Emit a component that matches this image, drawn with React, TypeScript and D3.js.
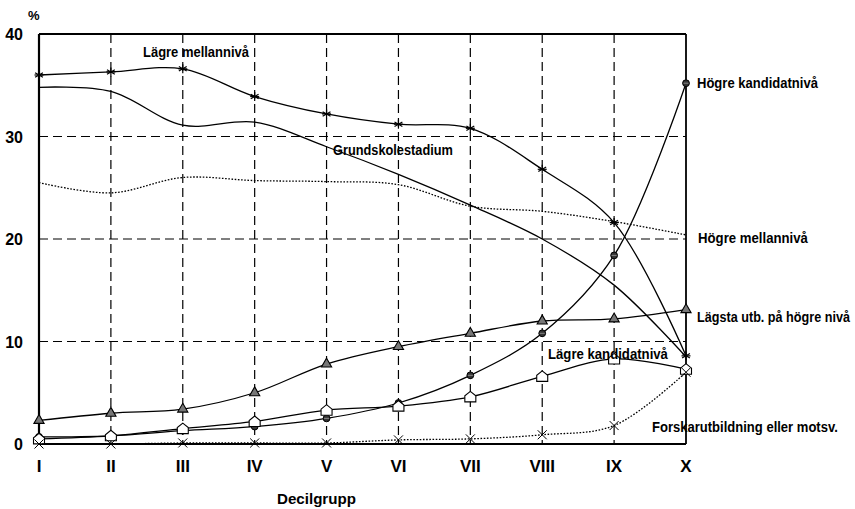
import React, { useLayoutEffect, useRef, useState } from "react";
import * as d3 from "d3";

const categories = ["I", "II", "III", "IV", "V", "VI", "VII", "VIII", "IX", "X"];
const yTicks = [0, 10, 20, 30, 40];

const lagreMellan = [36.0, 36.3, 36.6, 33.9, 32.2, 31.2, 30.8, 26.8, 21.6, 8.6];
const grundskole = [34.8, 34.4, 31.1, 31.4, 29.0, 26.3, 23.3, 20.0, 15.5, 8.5];
const hogreMellan = [25.5, 24.5, 26.0, 25.7, 25.6, 25.3, 23.2, 22.7, 21.7, 20.4];
const lagstaUtb = [2.3, 3.0, 3.4, 5.0, 7.8, 9.5, 10.8, 12.0, 12.2, 13.1];
const hogreKand = [0.7, 0.8, 1.3, 1.7, 2.5, 4.0, 6.7, 10.8, 18.4, 35.2];
const lagreKand = [0.5, 0.8, 1.5, 2.2, 3.3, 3.7, 4.6, 6.6, 8.3, 7.3];
const forskar = [0.0, 0.0, 0.1, 0.1, 0.1, 0.4, 0.5, 0.9, 1.8, 7.0];

type Marker = "none" | "asterisk" | "triangle" | "circle" | "house" | "cross";
const seriesDefs: { name: string; values: number[]; marker: Marker; dotted: boolean }[] = [
  { name: "Lägre mellannivå", values: lagreMellan, marker: "asterisk", dotted: false },
  { name: "Grundskolestadium", values: grundskole, marker: "none", dotted: false },
  { name: "Högre mellannivå", values: hogreMellan, marker: "none", dotted: true },
  { name: "Lägsta utb. på högre nivå", values: lagstaUtb, marker: "triangle", dotted: false },
  { name: "Högre kandidatnivå", values: hogreKand, marker: "circle", dotted: false },
  { name: "Lägre kandidatnivå", values: lagreKand, marker: "house", dotted: false },
  { name: "Forskarutbildning eller motsv.", values: forskar, marker: "cross", dotted: true },
];

const labels: { text: string; x: number; y: number; w: number }[] = [
  { text: "Lägre mellannivå", x: 143, y: 57, w: 106 },
  { text: "Grundskolestadium", x: 333, y: 155, w: 120 },
  { text: "Högre kandidatnivå", x: 697, y: 88, w: 121 },
  { text: "Högre mellannivå", x: 698, y: 243, w: 110 },
  { text: "Lägsta utb. på högre nivå", x: 697, y: 322, w: 153 },
  { text: "Lägre kandidatnivå", x: 548, y: 359, w: 120 },
  { text: "Forskarutbildning eller motsv.", x: 652, y: 432, w: 186 },
];

const W = 855;
const H = 509;
const left = 39;
const right = 686;
const top = 34;
const bottom = 444;
const FONT = "'Liberation Sans Narrow', 'Arial Narrow', 'Liberation Sans', Arial, sans-serif";

function FitText({ text, x, y, w, size }: { text: string; x: number; y: number; w: number; size: number }) {
  const ref = useRef<SVGTextElement>(null);
  const [k, setK] = useState(0.82);
  useLayoutEffect(() => {
    if (ref.current) {
      const n = ref.current.getComputedTextLength();
      if (n > 0) setK(w / n);
    }
  }, [text, w]);
  return (
    <text ref={ref} transform={`translate(${x},${y}) scale(${k},1)`} fontSize={size}>
      {text}
    </text>
  );
}

function MarkerShape({ type, x, y }: { type: Marker; x: number; y: number }) {
  const s = 4.5;
  if (type === "asterisk") {
    return (
      <g stroke="#000" strokeWidth={1.2}>
        <line x1={x} y1={y - s} x2={x} y2={y + s} />
        <line x1={x - s * 0.87} y1={y - s * 0.5} x2={x + s * 0.87} y2={y + s * 0.5} />
        <line x1={x - s * 0.87} y1={y + s * 0.5} x2={x + s * 0.87} y2={y - s * 0.5} />
        <line x1={x - s} y1={y} x2={x + s} y2={y} />
      </g>
    );
  }
  if (type === "cross") {
    return (
      <g stroke="#000" strokeWidth={1}>
        <line x1={x - s} y1={y - s} x2={x + s} y2={y + s} />
        <line x1={x - s} y1={y + s} x2={x + s} y2={y - s} />
      </g>
    );
  }
  if (type === "triangle") {
    const p = d3.symbol().type(d3.symbolTriangle).size(45)();
    return (
      <g transform={`translate(${x},${y})`}>
        <path d={p || ""} fill="#777" stroke="#000" strokeWidth={1.1} />
      </g>
    );
  }
  if (type === "circle") {
    return (
      <g>
        <circle cx={x} cy={y} r={3.4} fill="#333" stroke="#000" strokeWidth={1} />
        <line x1={x - 2.5} y1={y} x2={x + 2.5} y2={y} stroke="#aaa" strokeWidth={0.7} />
      </g>
    );
  }
  if (type === "house") {
    const w = 5.5;
    const d = `M${x - w},${y + 5} L${x - w},${y - 1} L${x},${y - 5.5} L${x + w},${y - 1} L${x + w},${y + 5} Z`;
    return <path d={d} fill="#fff" stroke="#000" strokeWidth={1.1} />;
  }
  return null;
}

export default function App() {
  const x = d3.scalePoint<string>().domain(categories).range([left, right]).padding(0);
  const y = d3.scaleLinear().domain([0, 40]).range([bottom, top]);

  const line = d3
    .line<number>()
    .x((_, i) => x(categories[i]) as number)
    .y((d) => y(d))
    .curve(d3.curveCatmullRom.alpha(0.5));

  return (
    <svg
      width={W}
      height={H}
      viewBox={`0 0 ${W} ${H}`}
      style={{ position: "absolute", left: 0, top: 0, background: "#fff" }}
    >
      <rect x={0} y={0} width={W} height={H} fill="#fff" />
      {/* grid */}
      <g stroke="#000" strokeWidth={1.2} strokeDasharray="9,5">
        {yTicks
          .filter((t) => t > 0 && t < 40)
          .map((t) => (
            <line key={t} x1={left} x2={right} y1={y(t)} y2={y(t)} />
          ))}
        {categories.slice(1, -1).map((c) => (
          <line key={c} x1={x(c)} x2={x(c)} y1={top} y2={bottom} />
        ))}
      </g>
      {/* frame */}
      <g stroke="#000" fill="none">
        <line x1={left} x2={right} y1={top} y2={top} strokeWidth={1.8} />
        <line x1={left} x2={right} y1={bottom} y2={bottom} strokeWidth={2.2} />
        <line x1={left} x2={left} y1={top} y2={bottom} strokeWidth={2.2} />
        <line x1={right} x2={right} y1={top} y2={bottom} strokeWidth={1.8} />
      </g>
      {/* series */}
      {seriesDefs.map((s) => (
        <g key={s.name}>
          <path
            d={line(s.values) || ""}
            fill="none"
            stroke="#000"
            strokeWidth={1.3}
            strokeDasharray={s.dotted ? "1.6,1.6" : undefined}
          />
          {s.marker !== "none" &&
            s.values.map((v, i) => (
              <MarkerShape key={i} type={s.marker} x={x(categories[i]) as number} y={y(v)} />
            ))}
        </g>
      ))}
      {/* y tick labels */}
      <g fontFamily={FONT} fontWeight="bold" fontSize={16} fill="#000">
        {yTicks.map((t) => (
          <text key={t} x={23} y={y(t) + 6} textAnchor="end">
            {t}
          </text>
        ))}
        <text x={28} y={20} fontSize={13}>
          %
        </text>
      </g>
      {/* x tick labels */}
      <g fontFamily={FONT} fontWeight="bold" fontSize={17} fill="#000">
        {categories.map((c) => (
          <text key={c} x={x(c)} y={472} textAnchor="middle">
            {c}
          </text>
        ))}
        <FitText text="Decilgrupp" x={277} y={504} w={79} size={15} />
      </g>
      {/* series labels */}
      <g fontFamily={FONT} fontWeight="bold" fill="#000">
        {labels.map((l) => (
          <FitText key={l.text} text={l.text} x={l.x} y={l.y} w={l.w} size={14} />
        ))}
      </g>
    </svg>
  );
}
